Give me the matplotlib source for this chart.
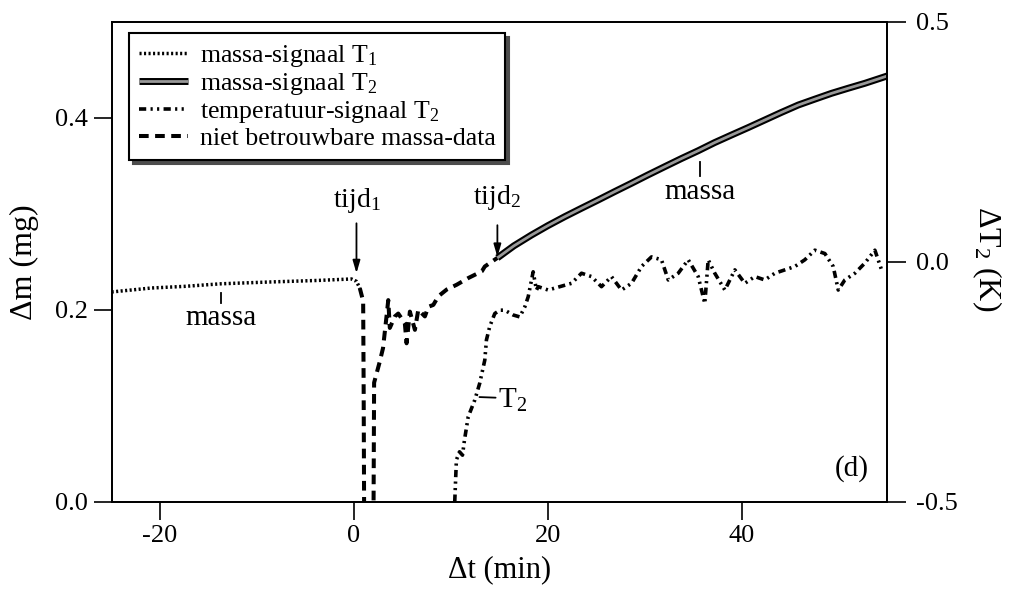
import matplotlib
matplotlib.use("Agg")
import matplotlib.pyplot as plt
import matplotlib.patheffects as pe
from matplotlib.lines import Line2D

plt.rcParams["font.family"] = ["Liberation Serif", "DejaVu Serif"]
plt.rcParams["mathtext.fontset"] = "custom"
plt.rcParams["mathtext.rm"] = "Liberation Serif"
plt.rcParams["mathtext.it"] = "Liberation Serif:italic"
plt.rcParams["mathtext.bf"] = "Liberation Serif:bold"
plt.rcParams["axes.unicode_minus"] = False

# --- data -------------------------------------------------------------
# mass signal at thermocouple T1 (before tijd1), mg
t1_time = [-25.0, -20.9, -17.5, -13.7, -8.9, -3.7, -0.26, 0.26, 0.6]
t1_mass = [0.2185, 0.2226, 0.2243, 0.227, 0.2288, 0.2305, 0.232, 0.2295, 0.2226]

# unreliable mass data between tijd1 and tijd2, mg (dips below the axis)
bad_time = [0.6, 0.95, 1.0, 1.05, 1.55, 2.02, 2.08, 2.64, 3.0, 3.36, 3.54,
            3.70, 4.22, 4.57, 5.25, 5.43, 5.77, 6.29, 6.64, 7.32, 7.67, 8.19,
            8.71, 9.57, 10.6, 11.8, 13.2, 13.5, 14.8]
bad_mass = [0.2226, 0.209, 0.12, -0.01, -0.30, -0.01, 0.124, 0.145, 0.16,
            0.193, 0.210, 0.181, 0.193, 0.196, 0.186, 0.165, 0.198, 0.179,
            0.200, 0.193, 0.203, 0.205, 0.214, 0.221, 0.226, 0.233, 0.240,
            0.245, 0.254]

# mass signal at thermocouple T2 (after tijd2), mg
t2_time = [14.8, 16.5, 18.32, 20.0, 21.75, 23.5, 25.2, 26.9, 28.64, 30.3,
           32.07, 33.8, 35.52, 37.2, 38.96, 40.7, 42.39, 44.1, 45.84, 47.6,
           49.28, 51.0, 52.71, 55.0]
t2_mass = [0.254, 0.2665, 0.2778, 0.2875, 0.2969, 0.3058, 0.3143, 0.3230,
           0.3317, 0.3402, 0.349, 0.3575, 0.3656, 0.3740, 0.382, 0.3898,
           0.3976, 0.4055, 0.4132, 0.4195, 0.4254, 0.4307, 0.4358, 0.4434]

# temperature signal T2, K (right axis)
temp_time = [10.40, 10.57, 10.89, 11.20, 11.40, 11.79, 12.47, 12.98, 13.50,
             13.67, 14.01, 14.53, 15.05, 15.56, 16.43, 17.11, 17.63, 17.98,
             18.49, 18.83, 19.01, 20.04, 21.24, 22.45, 23.48, 24.51, 25.54,
             26.57, 27.61, 28.64, 29.67, 30.70, 31.73, 32.43, 33.46, 34.49,
             35.52, 36.20, 36.55, 37.23, 38.27, 39.30, 40.33, 41.36, 42.39,
             43.43, 44.46, 45.49, 46.52, 47.55, 48.59, 49.45, 49.97, 50.65,
             51.69, 52.71, 53.75, 54.44]
temp_dT = [-0.500, -0.413, -0.396, -0.403, -0.372, -0.323, -0.288, -0.253,
           -0.205, -0.163, -0.135, -0.108, -0.101, -0.101, -0.111, -0.115,
           -0.094, -0.073, -0.021, -0.059, -0.052, -0.059, -0.052, -0.045,
           -0.024, -0.031, -0.052, -0.031, -0.059, -0.045, -0.010, 0.010,
           0.004, -0.038, -0.024, 0.004, -0.031, -0.087, 0.004, -0.024,
           -0.059, -0.017, -0.045, -0.031, -0.038, -0.024, -0.017, -0.010,
           0.004, 0.024, 0.017, -0.010, -0.059, -0.038, -0.024, -0.003,
           0.024, -0.017]

x_ticks = [-20, 0, 20, 40]
mass_ticks = [0.0, 0.2, 0.4]
temp_ticks = [-0.5, 0.0, 0.5]

legend_labels = [r"massa-signaal T$_\mathrm{1}$",
                 r"massa-signaal T$_\mathrm{2}$",
                 r"temperatuur-signaal T$_\mathrm{2}$",
                 "niet betrouwbare massa-data"]

# --- styles -----------------------------------------------------------
dot_style = dict(color="black", lw=2.5, linestyle=(0, (0.6, 0.7)))
dash_style = dict(color="black", lw=2.9, linestyle=(0, (2.4, 1.6)))
dashdot_style = dict(color="black", lw=2.6,
                     linestyle=(0, (2.0, 1.2, 0.6, 1.2, 0.6, 1.2)))
solid_style = dict(color="0.6", lw=2.0, solid_capstyle="butt",
                   path_effects=[pe.Stroke(linewidth=5.0, foreground="black"),
                                 pe.Normal()])

fig = plt.figure(figsize=(10.15, 5.96), dpi=100)
ax = fig.add_axes([0.1100, 0.1582, 0.7639, 0.8054])
ax2 = ax.twinx()

ax.plot(t1_time, t1_mass, **dot_style)
ax.plot(bad_time, bad_mass, **dash_style)
ax.plot(t2_time, t2_mass, **solid_style)
ax2.plot(temp_time, temp_dT, **dashdot_style)

ax.set_xlim(-25, 55)
ax.set_ylim(0.0, 0.5)
ax2.set_ylim(-0.5, 0.5)

ax.set_xticks(x_ticks)
ax.set_xticklabels([str(v) for v in x_ticks])
ax.set_yticks(mass_ticks)
ax.set_yticklabels([f"{v:.1f}" for v in mass_ticks])
ax2.set_yticks(temp_ticks)
ax2.set_yticklabels([f"{v:.1f}" for v in temp_ticks])

for a in (ax, ax2):
    for s in a.spines.values():
        s.set_linewidth(1.3)
ax.tick_params(axis="x", direction="out", length=13, width=1.2,
               labelsize=19, pad=4)
ax.tick_params(axis="y", direction="out", length=13, width=1.2,
               labelsize=19, pad=4)
ax2.tick_params(axis="y", direction="out", length=14, width=1.2,
                labelsize=19, pad=7)

ax.set_xlabel("Δt (min)", fontsize=22)
ax.xaxis.label.set_va("center")
ax.xaxis.set_label_coords(0.5, -0.142)
ax.set_ylabel("Δm (mg)", fontsize=23)
ax.yaxis.label.set_va("center")
ax.yaxis.set_label_coords(-0.112, 0.5)
ax2.set_ylabel(r"ΔT$_\mathrm{2}$ (K)", fontsize=23, rotation=270)
ax2.yaxis.label.set_va("center")
ax2.yaxis.set_label_coords(1.129, 0.506)

# annotations
arrow = dict(arrowstyle="-|>,head_length=0.75,head_width=0.22",
             color="black", lw=1.3, shrinkA=0, shrinkB=0)
ax.annotate("", xy=(0.26, 0.238), xytext=(0.26, 0.290), arrowprops=arrow)
ax.text(0.26, 0.314, r"tijd$_\mathrm{1}$", fontsize=20, ha="center",
        va="center")
ax.annotate("", xy=(14.8, 0.255), xytext=(14.8, 0.288), arrowprops=arrow)
ax.text(14.8, 0.317, r"tijd$_\mathrm{2}$", fontsize=20, ha="center",
        va="center")

ax.plot([-13.7, -13.7], [0.207, 0.217], color="black", lw=1.3)
ax.text(-13.7, 0.191, "massa", fontsize=21, ha="center", va="center")
ax.plot([35.7, 35.7], [0.339, 0.354], color="black", lw=1.3)
ax.text(35.7, 0.323, "massa", fontsize=21, ha="center", va="center")

ax.annotate(r"T$_\mathrm{2}$", xy=(12.95, 0.109), xytext=(16.4, 0.106),
            fontsize=21, ha="center", va="center",
            arrowprops=dict(arrowstyle="-", color="black", lw=1.3,
                            shrinkA=0, shrinkB=0, relpos=(0.0, 0.58)))
ax.text(0.955, 0.070, "(d)", transform=ax.transAxes, fontsize=21,
        ha="center", va="center")

handles = [Line2D([], [], **dot_style),
           Line2D([], [], **solid_style),
           Line2D([], [], **dashdot_style),
           Line2D([], [], **dash_style)]
leg = ax.legend(handles, legend_labels, loc="upper left",
                bbox_to_anchor=(0.0227, 0.9758), borderaxespad=0,
                fontsize=18.6, frameon=True, fancybox=False,
                handlelength=1.9, handletextpad=0.45, labelspacing=0.08,
                borderpad=0.38,
                shadow={"ox": 2.5, "oy": -2.5, "shade": 0.7, "alpha": 1})
leg.get_frame().set_edgecolor("black")
leg.get_frame().set_linewidth(1.5)
leg.get_frame().set_alpha(1)
leg.set_zorder(5)

fig.savefig("out.png", dpi=100)
